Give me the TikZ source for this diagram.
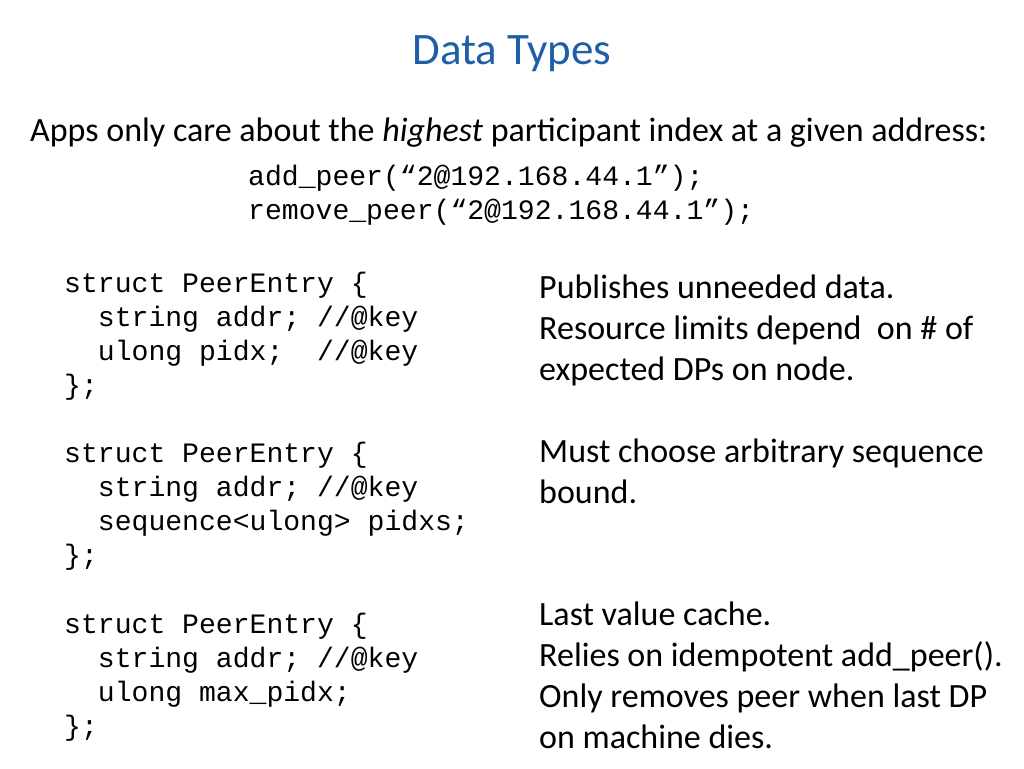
\documentclass[tikz,border=0pt]{standalone}
\usepackage{fontspec}
\setmainfont{Carlito}
\setmonofont{Liberation Mono}
\definecolor{titleblue}{RGB}{31,95,170}
\begin{document}
\begin{tikzpicture}[x=1pt,y=-1pt,
  txt/.style={anchor=base west,inner sep=0pt,font=\fontsize{34}{40}\selectfont},
  code/.style={anchor=base west,inner sep=0pt,font=\ttfamily\fontsize{28.1}{34}\selectfont}]
\useasboundingbox (0,0) rectangle (1024,768);
\node[anchor=base,inner sep=0pt,font=\fontsize{45}{52}\selectfont,text=titleblue] (title) at (512,64) {Data Types};
\node[txt] (intro) at (30,141) {Apps only care about the \textit{highest} participant index at a given address:};
\node[code] (c1) at (248,185) {add\_peer(“2@192.168.44.1”);};
\node[code] (c2) at (248,219) {remove\_peer(“2@192.168.44.1”);};
\foreach \n/\t/\y in {a1/{struct PeerEntry \{}/292, a2/{\ \ string addr; //@key}/326, a3/{\ \ ulong pidx;\ \ //@key}/360, a4/{\};}/394,
  b1/{struct PeerEntry \{}/462, b2/{\ \ string addr; //@key}/496, b3/{\ \ sequence<ulong> pidxs;}/530, b4/{\};}/564,
  d1/{struct PeerEntry \{}/633, d2/{\ \ string addr; //@key}/667, d3/{\ \ ulong max\_pidx;}/701, d4/{\};}/735}
  \node[code] (\n) at (64,\y) {\t};
\foreach \n/\t/\y in {r1/{Publishes unneeded data.}/298, r2/{Resource limits depend\ \ on \# of}/339, r3/{expected DPs on node.}/380,
  s1/{Must choose arbitrary sequence}/462, s2/{bound.}/503,
  t1/{Last value cache.}/625, t2/{Relies on idempotent add\_peer().}/666, t3/{Only removes peer when last DP}/707, t4/{on machine dies.}/748}
  \node[txt] (\n) at (539,\y) {\t};
\end{tikzpicture}
\end{document}
